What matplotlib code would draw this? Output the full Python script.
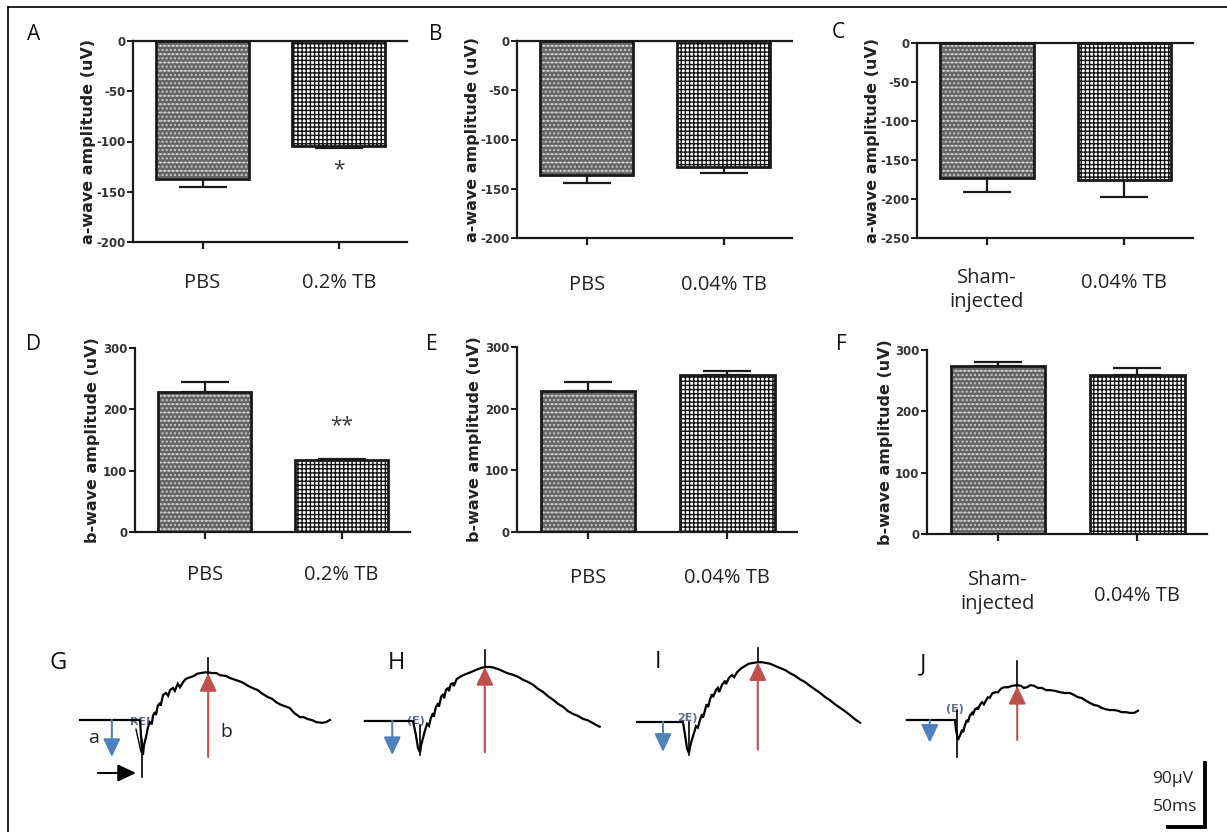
import matplotlib
matplotlib.use("Agg")
import matplotlib.pyplot as plt
from matplotlib.lines import Line2D

plt.rcParams['hatch.linewidth'] = 1.0

W, H = 1227, 832
fig = plt.figure(figsize=(W / 100, H / 100), dpi=100)
fig.patch.set_facecolor('white')

# ---------------- data: bar panels ----------------
cats_A = ['PBS', '0.2% TB']
a_wave_A = [-137, -104]
a_err_A = [8, 2]

cats_B = ['PBS', '0.04% TB']
a_wave_B = [-136, -128]
a_err_B = [8.5, 6.5]

cats_C = ['Sham-\ninjected', '0.04% TB']
a_wave_C = [-173, -175]
a_err_C = [18, 22]

cats_D = ['PBS', '0.2% TB']
b_wave_D = [228, 118]
b_err_D = [16, 1.5]

cats_E = ['PBS', '0.04% TB']
b_wave_E = [228, 255]
b_err_E = [16, 6]

cats_F = ['Sham-\ninjected', '0.04% TB']
b_wave_F = [274, 260]
b_err_F = [7, 11]

yticks_a = [0, -50, -100, -150, -200]
yticks_aC = [0, -50, -100, -150, -200, -250]
yticks_b = [0, 100, 200, 300]

# ---------------- data: ERG traces (ms, uV) ----------------
G_t = [-81, 0, 1.35, 2.7, 4, 5.4, 8.1, 10.8, 13.5, 16, 17.5, 20, 21.6, 24, 27, 28, 31, 35, 38, 40.5,
       44.5, 47, 51, 54, 58, 62, 67.5, 73, 77, 82, 88, 92, 97, 103, 108, 116, 121.5, 130, 138, 146,
       154, 159, 165, 173, 178, 184, 189, 194, 202, 208, 216, 221, 227, 232, 238, 246, 251, 256.5]
G_v = [0, 0, -21, -42, -49, -35, -24, -10, -3, -6, 6, 11, 7, 20, 24, 20, 35, 38, 34, 42,
       45, 41, 51, 46, 53, 58, 60, 62, 65, 66, 67, 67, 66, 66, 63, 62, 59, 56, 53, 48,
       44, 42, 37, 32, 30, 25, 22, 20, 17, 10, 4, 4, 1, 0, -3, -4, -3, 0]

H_t = [-65, 0, 4, 6.75, 9.5, 11, 13.5, 16, 19, 21.6, 24, 27, 28, 31, 34, 35, 38, 40.5, 42, 44.5,
       47, 48.6, 51, 54, 55, 59, 63.5, 69, 74, 81, 88, 93, 98.5, 104, 109, 115, 121.5, 128, 135, 142,
       148.5, 155, 162, 169, 175.5, 182, 189, 196, 202.5, 209, 216, 223, 229.5, 236, 243, 248, 252]
H_v = [0, 0, -20, -38, -44, -34, -24, -14, -4, -7, 4, 11, 6, 20, 25, 20, 34, 38, 32, 44,
       46, 42, 52, 53, 49, 59, 62, 65, 67, 70, 73, 75, 76, 76, 75, 73, 70, 67, 65, 62,
       58, 55, 51, 45, 41, 35, 30, 24, 20, 14, 10, 7, 3, 1, -3, -6, -8]

I_t = [-62, 0, 2.7, 5.4, 8, 9.5, 12, 15, 17.5, 20, 23, 25.6, 27, 30, 32, 34, 36.5, 39, 40.5, 44.5,
       47, 48.6, 53, 57, 58, 62, 66, 69, 73, 78, 84, 89, 94.5, 101, 107, 112, 117.5, 124, 131, 138,
       144, 151, 158, 165, 171, 178, 185, 192, 198, 205, 212, 219, 225, 232, 239]
I_v = [0, 0, -18, -37, -44, -35, -25, -15, -6, -8, 3, 11, 6, 18, 25, 21, 32, 39, 35, 45,
       48, 42, 53, 58, 53, 62, 66, 63, 70, 75, 79, 82, 83, 84, 84, 83, 82, 79, 76, 73,
       69, 65, 60, 56, 51, 46, 41, 35, 31, 25, 20, 15, 10, 4, -1]

J_t = [-65, 0, 1.35, 4, 6.75, 9.5, 11, 13.5, 16, 17.5, 20, 23, 24, 27, 30, 31, 34, 36.5, 39, 42,
       44.5, 47, 50, 54, 58, 62, 66, 71.5, 77, 84, 89, 93, 97, 102, 107, 112, 117.5, 123, 128, 135,
       142, 148.5, 155, 161, 166, 171, 177, 182, 188, 193, 198, 204, 209, 215, 220, 225, 231, 236, 242, 247]
J_v = [0, 0, -14, -28, -22, -14, -17, -7, 0, -3, 6, 10, 7, 15, 17, 15, 22, 25, 22, 28,
       32, 31, 37, 39, 39, 44, 46, 46, 48, 49, 48, 45, 46, 49, 48, 45, 45, 42, 42, 41,
       39, 38, 38, 35, 32, 31, 27, 24, 21, 20, 17, 15, 14, 14, 13, 11, 11, 10, 10, 13]

# cursor / arrow values (ms, uV)
peak_cursor = {'G': (92, 87, 64), 'H': (97, 100, 76), 'I': (101, 104, 84), 'J': (84, 83, 42)}
trough_cursor = {'G': (2.7, -28, -80), 'H': (9.5, -6, -48), 'I': (8, 0, -46), 'J': (2.7, 14, -52)}
a_arrow = {'G': (-38, 0, -52), 'H': (-28, 0, -48), 'I': (-27, 0, -42), 'J': (-34, 0, -32)}
b_arrow = {'G': (92, -52, 66), 'H': (97, -44, 76), 'I': (101, -39, 84), 'J': (84, -28, 48)}
marker_text = {'G': 'REI', 'H': '(E)', 'I': '2E)', 'J': '(E)'}
marker_pos = {'G': (0, -3), 'H': (4, 0), 'I': (5.4, 5.6), 'J': (0, 15.5)}

MS_PER_PX = 1.35
UV_PER_PX = 1.406

CAT_FONT = ['Open Sans', 'DejaVu Sans']
INK = '#1a1a1a'


def px_axes(x0, y0, x1, y1):
    return fig.add_axes([x0 / W, 1 - y1 / H, (x1 - x0) / W, (y1 - y0) / H])


def bar_panel(rect, cats, vals, errs, yticks, ylim, ylabel, ylabel_x, letter, letter_xy,
              label_off, negative):
    x0, y0, x1, y1 = rect
    ax = px_axes(x0, y0, x1, y1)
    xs = [0, 1]
    ax.bar(xs[0], vals[0], width=0.68, color='#646464', hatch='....',
           edgecolor='#c8c8c8', linewidth=0, zorder=2)
    ax.bar(xs[0], vals[0], width=0.68, color='none', hatch='--',
           edgecolor=(1, 1, 1, 0.35), linewidth=0, zorder=2.1)
    ax.bar(xs[1], vals[1], width=0.68, color='white', hatch='++++',
           edgecolor='#111111', linewidth=0, zorder=2)
    ax.bar(xs, vals, width=0.68, fill=False, edgecolor=INK, linewidth=2.0, zorder=3)
    zeros = [0, 0]
    yerr = [errs, zeros] if negative else [zeros, errs]
    ax.errorbar(xs, vals, yerr=yerr, fmt='none', ecolor=INK, elinewidth=1.6,
                capsize=17, capthick=1.6, zorder=1)
    ax.set_xlim(-0.51, 1.5)
    ax.set_ylim(*ylim)
    ax.set_yticks(yticks)
    ax.set_yticklabels([str(t) for t in yticks], fontweight='bold',
                       family='DejaVu Sans', fontsize=8.5, color='#333333')
    ax.set_xticks(xs)
    ax.set_xticklabels([])
    ax.tick_params(axis='x', length=5, width=1.6, direction='out', color=INK)
    ax.tick_params(axis='y', length=4, width=1.4, direction='out', pad=1.5, color=INK)
    for s in ['left', 'bottom', 'top']:
        ax.spines[s].set_linewidth(1.6)
        ax.spines[s].set_color(INK)
    ax.spines['right'].set_visible(False)
    if not negative:
        ax.spines['top'].set_visible(False)
    ax.set_facecolor('none')
    for i, c in enumerate(cats):
        ax.annotate(c, xy=(xs[i], 0), xycoords=ax.get_xaxis_transform(),
                    xytext=(0, -label_off[i] * 0.72), textcoords='offset points',
                    ha='center', va='center', fontsize=14.5, family=CAT_FONT,
                    color='#222222', linespacing=1.25)
    fig.text(ylabel_x / W, 1 - (y0 + y1) / 2 / H, ylabel, rotation=90, ha='center',
             va='center', fontsize=11.5, fontweight='bold', family='DejaVu Sans',
             color='#222222')
    fig.text(letter_xy[0] / W, 1 - letter_xy[1] / H, letter, ha='center', va='center',
             fontsize=15, family=CAT_FONT, color='#111111')
    return ax


axA = bar_panel((133, 41, 407, 242), cats_A, a_wave_A, a_err_A, yticks_a, (-200, 0),
                'a-wave amplitude (uV)', 88, 'A', (34, 34), (41, 41), True)
axB = bar_panel((517, 41, 792, 238), cats_B, a_wave_B, a_err_B, yticks_a, (-200, 0),
                'a-wave amplitude (uV)', 473, 'B', (436, 34), (47, 47), True)
axC = bar_panel((917, 43, 1193, 238), cats_C, a_wave_C, a_err_C, yticks_aC, (-250, 0),
                'a-wave amplitude (uV)', 872, 'C', (838, 33), (52, 45), True)
axD = bar_panel((135, 348, 410, 532), cats_D, b_wave_D, b_err_D, yticks_b, (0, 300),
                'b-wave amplitude (uV)', 92, 'D', (33, 345), (43, 43), False)
axE = bar_panel((517, 347, 797, 532), cats_E, b_wave_E, b_err_E, yticks_b, (0, 300),
                'b-wave amplitude (uV)', 475, 'E', (432, 344), (46, 46), False)
axF = bar_panel((927, 350, 1207, 534), cats_F, b_wave_F, b_err_F, yticks_b, (0, 300),
                'b-wave amplitude (uV)', 885, 'F', (841, 344), (58, 62), False)

# significance marks
axA.text(1, -128, '*', ha='center', va='center', fontsize=15, family=CAT_FONT, color='#3a3a3a')
axD.text(1, 174, '**', ha='center', va='center', fontsize=15, family=CAT_FONT, color='#3a3a3a')

# ---------------- ERG traces ----------------
BLUE = '#4f81bd'
RED = '#c0504d'


def trace_axes(x0, y0, x1, y1, onset_x, base_y):
    ax = px_axes(x0, y0, x1, y1)
    ax.set_xlim((x0 - onset_x) * MS_PER_PX, (x1 - onset_x) * MS_PER_PX)
    ax.set_ylim((base_y - y1) * UV_PER_PX, (base_y - y0) * UV_PER_PX)
    ax.axis('off')
    return ax


def arrow(ax, tail, tip, color, lw=1.5):
    ax.annotate('', xy=tip, xytext=tail,
                arrowprops=dict(arrowstyle='-|>,head_length=0.55,head_width=0.26',
                                color=color, lw=lw, mutation_scale=20,
                                shrinkA=0, shrinkB=0))


traces = {'G': (G_t, G_v), 'H': (H_t, H_v), 'I': (I_t, I_v), 'J': (J_t, J_v)}
trace_rects = {'G': (60, 640, 340, 800, 140, 720), 'H': (360, 640, 610, 800, 413, 721),
               'I': (625, 640, 880, 800, 683, 722), 'J': (895, 640, 1150, 800, 955, 720)}
trace_letters = {'G': (58, 663), 'H': (396, 663), 'I': (658, 662), 'J': (923, 664)}

for key in ['G', 'H', 'I', 'J']:
    ax = trace_axes(*trace_rects[key])
    t, v = traces[key]
    ax.plot(t, v, color='black', lw=1.6, solid_joinstyle='miter', zorder=3)
    pt, ptop, pbot = peak_cursor[key]
    ax.plot([pt, pt], [ptop, pbot], color='black', lw=1.2, zorder=3)
    tt, ttop, tbot = trough_cursor[key]
    ax.plot([tt, tt], [ttop, tbot], color='black', lw=1.2, zorder=3)
    at, a0, a1 = a_arrow[key]
    arrow(ax, (at, a0), (at, a1), BLUE)
    bt, b0, b1 = b_arrow[key]
    arrow(ax, (bt, b0), (bt, b1), RED)
    mx, my = marker_pos[key]
    ax.text(mx, my, marker_text[key], ha='center', va='center', fontsize=8,
            fontweight='bold', color='#44557a', alpha=0.85, family='DejaVu Sans', zorder=2)
    lx, ly = trace_letters[key]
    fig.text(lx / W, 1 - ly / H, key, ha='center', va='center', fontsize=17,
             family=CAT_FONT, color='#111111')
    if key == 'G':
        ax.plot([-5.4, 1.35], [-13, -45], color='black', lw=1.0)
        arrow(ax, (-57, -74.5), (-5.4, -74.5), 'black')
        ax.text(-63, -25, 'a', ha='center', va='center', fontsize=14, family=CAT_FONT, color='#222222')
        ax.text(117, -17, 'b', ha='center', va='center', fontsize=14, family=CAT_FONT, color='#222222')

# ---------------- scale bar ----------------
sb = trace_axes(1140, 740, 1222, 832, 1205, 827)
sb.plot([-50, 0, 0], [0, 0, 90], color='black', lw=2.8, solid_joinstyle='miter',
        solid_capstyle='projecting')
fig.text(1193 / W, 1 - 779 / H, '90\u00b5V', ha='right', va='center', fontsize=12.5,
         family=CAT_FONT, color='#222222')
fig.text(1197 / W, 1 - 807 / H, '50ms', ha='right', va='center', fontsize=12.5,
         family=CAT_FONT, color='#222222')

# ---------------- frame ----------------
fig.add_artist(Line2D([8 / W, 8 / W], [0, 1 - 7 / H], transform=fig.transFigure,
                      color='black', lw=1.2))
fig.add_artist(Line2D([8 / W, 1], [1 - 7 / H, 1 - 7 / H], transform=fig.transFigure,
                      color='black', lw=1.2))

fig.savefig('out.png', dpi=100, facecolor='white')
